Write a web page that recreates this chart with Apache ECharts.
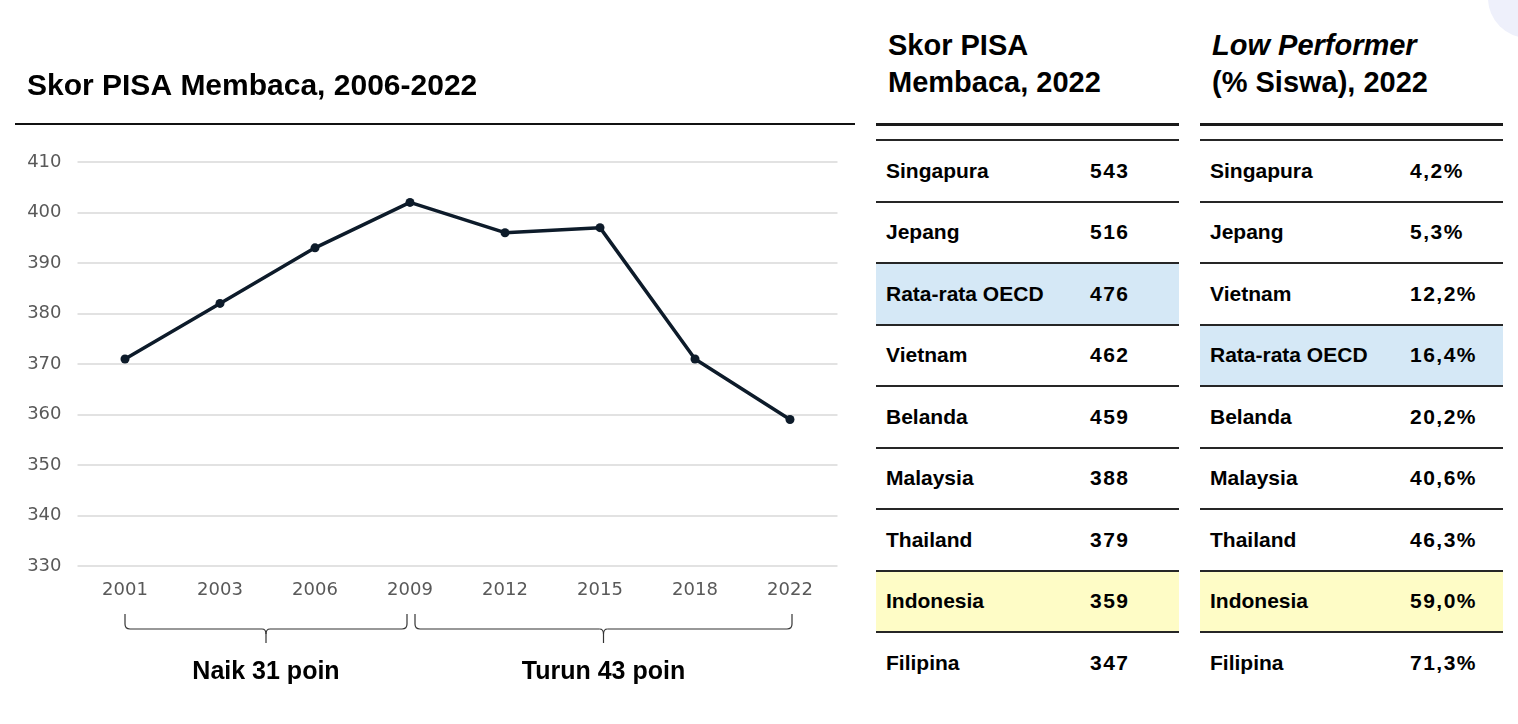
<!DOCTYPE html>
<html><head><meta charset="utf-8">
<script src="https://cdn.jsdelivr.net/npm/echarts@6/dist/echarts.min.js"></script>
<style>
html,body{margin:0;padding:0;background:#fff;width:1518px;height:724px;overflow:hidden;font-family:"Liberation Sans",Arial,sans-serif;}
#chart{position:absolute;left:0;top:0;width:860px;height:724px;}
.hdr{position:absolute;top:27px;font-weight:bold;font-size:29px;line-height:37px;color:#000;white-space:nowrap;}
.tbl{position:absolute;top:123px;width:303px;border-top:3px solid #1a1a1a;}
.rows{margin-top:13px;}
.row{height:61.5px;box-sizing:border-box;border-top:2px solid #262626;display:flex;align-items:center;font-weight:bold;font-size:21px;color:#000;white-space:nowrap;position:relative;}
.name{padding-left:10px;}
.val{position:absolute;letter-spacing:1.5px;}
.corner{position:absolute;left:1488px;top:-42px;width:80px;height:80px;border-radius:50%;background:#eef0fb;}
</style></head>
<body>
<div class="corner"></div>
<div id="chart"></div>
<div class="hdr" id="h1" style="left:888px">Skor PISA<br>Membaca, 2022</div>
<div class="hdr" id="h2" style="left:1212px"><i>Low Performer</i><br>(% Siswa), 2022</div>
<div class="tbl" id="t1" style="left:876px"><div class="rows"></div></div>
<div class="tbl" id="t2" style="left:1200px"><div class="rows"></div></div>
<script>
// ---- data ----
const years = ['2001','2003','2006','2009','2012','2015','2018','2022'];
const readingScores = [371, 382, 393, 402, 396, 397, 371, 359];
const yTicks = [330, 340, 350, 360, 370, 380, 390, 400, 410];
const braceLabels = ['Naik 31 poin', 'Turun 43 poin'];
const braceRanges = [[0, 3], [3, 7]];

const t1Countries = ['Singapura','Jepang','Rata-rata OECD','Vietnam','Belanda','Malaysia','Thailand','Indonesia','Filipina'];
const t1Scores = [543, 516, 476, 462, 459, 388, 379, 359, 347];
const t2Countries = ['Singapura','Jepang','Vietnam','Rata-rata OECD','Belanda','Malaysia','Thailand','Indonesia','Filipina'];
const t2LowPerf = [4.2, 5.3, 12.2, 16.4, 20.2, 40.6, 46.3, 59.0, 71.3];

const highlight = {'Rata-rata OECD':'#d5e8f6', 'Indonesia':'#fefcc6'};

// ---- tables ----
function buildTable(id, names, vals, fmt, valOffset){
  const rows = document.querySelector('#'+id+' .rows');
  names.forEach((n,i)=>{
    const r = document.createElement('div');
    r.className='row';
    if (highlight[n]) r.style.background = highlight[n];
    const a = document.createElement('span'); a.className='name'; a.textContent=n;
    const b = document.createElement('span'); b.className='val'; b.style.left=valOffset+'px'; b.textContent=fmt(vals[i]);
    r.appendChild(a); r.appendChild(b); rows.appendChild(r);
  });
}
buildTable('t1', t1Countries, t1Scores, v=>String(v), 214);
buildTable('t2', t2Countries, t2LowPerf, v=>v.toFixed(1).replace('.',',')+'%', 210);

// ---- chart ----
const chart = echarts.init(document.getElementById('chart'), null, {renderer:'canvas'});
chart.setOption({
  animation:false,
  title:{text:'Skor PISA Membaca, 2006-2022', left:27, top:72, padding:0,
    textStyle:{fontFamily:'Liberation Sans', fontWeight:'bold', fontSize:30, color:'#000'}},
  grid:{left:77.5, right:22.5, top:162, bottom:158},
  xAxis:{type:'category', data:years, boundaryGap:true,
    axisLine:{show:false}, axisTick:{show:false},
    axisLabel:{color:'#595959', fontFamily:'DejaVu Sans', fontSize:18, margin:15}},
  yAxis:{type:'value', min:yTicks[0], max:yTicks[yTicks.length-1], interval:yTicks[1]-yTicks[0],
    axisLine:{show:false}, axisTick:{show:false},
    axisLabel:{color:'#595959', fontFamily:'DejaVu Sans', fontSize:18, margin:16},
    splitLine:{lineStyle:{color:'#d9d9d9', width:1.5}}},
  series:[{type:'line', data:readingScores, symbol:'circle', symbolSize:9,
    lineStyle:{color:'#0d1b2a', width:3.5}, itemStyle:{color:'#0d1b2a'}}]
});

const px = i => chart.convertToPixel({xAxisIndex:0}, i);
const yTop = 614, yH = 629, yTip = 643;
const st = {stroke:'#333', lineWidth:1.2, fill:null};
const graphics = [
  {type:'line', shape:{x1:15, y1:124, x2:855, y2:124}, style:{stroke:'#111', lineWidth:2}}
];
braceRanges.forEach((rg, k)=>{
  let x1 = px(rg[0]), x2 = px(rg[1]);
  if (k===0) { x2 -= 3; } else { x1 += 5; x2 += 2; }
  const m = (x1+x2)/2;
  graphics.push({type:'line', shape:{x1:x1, y1:yTop, x2:x1, y2:yH-5}, style:st});
  graphics.push({type:'bezierCurve', shape:{x1:x1, y1:yH-5, x2:x1+5, y2:yH, cpx1:x1, cpy1:yH}, style:st});
  graphics.push({type:'line', shape:{x1:x1+5, y1:yH, x2:m-4, y2:yH}, style:st});
  graphics.push({type:'bezierCurve', shape:{x1:m-4, y1:yH, x2:m, y2:yH+5, cpx1:m, cpy1:yH}, style:st});
  graphics.push({type:'bezierCurve', shape:{x1:m+4, y1:yH, x2:m, y2:yH+5, cpx1:m, cpy1:yH}, style:st});
  graphics.push({type:'line', shape:{x1:m, y1:yH+5, x2:m, y2:yTip}, style:st});
  graphics.push({type:'line', shape:{x1:m+4, y1:yH, x2:x2-5, y2:yH}, style:st});
  graphics.push({type:'bezierCurve', shape:{x1:x2-5, y1:yH, x2:x2, y2:yH-5, cpx1:x2, cpy1:yH}, style:st});
  graphics.push({type:'line', shape:{x1:x2, y1:yH-5, x2:x2, y2:yTop}, style:st});
  graphics.push({type:'text', x:m, y:672, style:{text:braceLabels[k], align:'center', verticalAlign:'middle',
    fontFamily:'Liberation Sans', fontWeight:'bold', fontSize:25, fill:'#000'}});
});
chart.setOption({graphic:graphics});
</script>
</body></html>
